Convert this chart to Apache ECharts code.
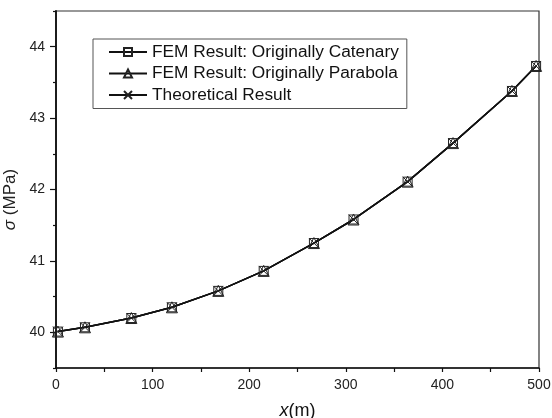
<!DOCTYPE html>
<html>
<head>
<meta charset="utf-8">
<script src="https://cdn.jsdelivr.net/npm/echarts@6/dist/echarts.min.js"></script>
<style>html,body{margin:0;padding:0;background:#fff;}#c{width:552px;height:418px;}</style>
</head>
<body>
<div id="c"></div>
<script>
const xValues = [2, 30, 78, 120, 168, 215, 267, 308, 364, 411, 472, 497];
const femCatenary = [40.01, 40.07, 40.2, 40.35, 40.58, 40.86, 41.25, 41.58, 42.11, 42.65, 43.38, 43.73];
const femParabola = [40.01, 40.07, 40.2, 40.35, 40.58, 40.86, 41.25, 41.58, 42.11, 42.65, 43.38, 43.73];
const theoretical = [40.01, 40.07, 40.2, 40.35, 40.58, 40.86, 41.25, 41.58, 42.11, 42.65, 43.38, 43.73];
const yMajorTicks = [40, 41, 42, 43, 44];
const yMinorTicks = [39.5, 40.5, 41.5, 42.5, 43.5, 44.5];
const seriesNames = ['FEM Result: Originally Catenary', 'FEM Result: Originally Parabola', 'Theoretical Result'];

const font = 'Liberation Sans, Arial, sans-serif';
const pair = (xs, ys) => xs.map((x, i) => [x, ys[i]]);
const mk = (name, data, symbol, size) => ({
  name, type: 'line', data, symbol, symbolSize: size,
  showSymbol: true,
  lineStyle: { color: '#111', width: 1.5 },
  itemStyle: { color: 'rgba(255,255,255,0)', borderColor: '#222', borderWidth: 1 },
  emphasis: { disabled: true },
  z: 3
});

const chart = echarts.init(document.getElementById('c'), null, { renderer: 'canvas' });
chart.setOption({
  animation: false,
  backgroundColor: '#fff',
  grid: { left: 56, right: 13, top: 11, bottom: 50, show: true, borderColor: '#333', borderWidth: 1.2, containLabel: false, outerBoundsMode: 'none' },
  legend: {
    orient: 'vertical', left: 93, top: 39,
    data: seriesNames,
    itemWidth: 38, itemHeight: 10, itemGap: 4.5,
    padding: [4.5, 8, 5, 15],
    borderColor: '#555', borderWidth: 1, backgroundColor: '#fff',
    textStyle: { fontFamily: font, fontSize: 17.3, color: '#111' },
    selectedMode: false
  },
  xAxis: {
    type: 'value', min: 0, max: 500, interval: 100,
    axisLine: { show: true, lineStyle: { color: '#111', width: 1.5 } },
    axisTick: { show: true, length: 4, inside: false, lineStyle: { color: '#111', width: 1.2 } },
    minorTick: { show: true, splitNumber: 2, length: 4, lineStyle: { color: '#111', width: 1.2 } },
    splitLine: { show: false },
    axisLabel: { fontFamily: font, fontSize: 14, color: '#222', margin: 10 },
    name: '{i|x}(m)', nameLocation: 'middle', nameGap: 34,
    nameTextStyle: { fontFamily: font, fontSize: 18, color: '#111', rich: { i: { fontStyle: 'italic', fontFamily: font, fontSize: 18 } } }
  },
  yAxis: [{
    type: 'value', min: 39.5, max: 44.5,
    axisLine: { show: true, lineStyle: { color: '#111', width: 1.8 } },
    axisTick: { show: true, length: 6, customValues: yMajorTicks, lineStyle: { color: '#111', width: 1.2 } },
    splitLine: { show: false },
    axisLabel: { fontFamily: font, fontSize: 14, color: '#222', margin: 11, customValues: yMajorTicks },
    name: '{i|σ} (MPa)', nameLocation: 'middle', nameGap: 30, nameRotate: 90,
    nameTextStyle: { fontFamily: font, fontSize: 17, color: '#222', padding: [0, 20, 0, 0], rich: { i: { fontStyle: 'italic', fontFamily: font, fontSize: 17 } } }
  }, {
    type: 'value', min: 39.5, max: 44.5, position: 'left',
    axisLine: { show: false },
    axisTick: { show: true, length: 3, customValues: yMinorTicks, lineStyle: { color: '#111', width: 1.2 } },
    axisLabel: { show: false },
    splitLine: { show: false }
  }],
  series: [
    mk(seriesNames[0], pair(xValues, femCatenary), 'rect', 9),
    mk(seriesNames[1], pair(xValues, femParabola), 'triangle', 11),
    mk(seriesNames[2], pair(xValues, theoretical), 'path://M0,0L10,10M10,0L0,10', 10)
  ]
});
</script>
</body>
</html>
